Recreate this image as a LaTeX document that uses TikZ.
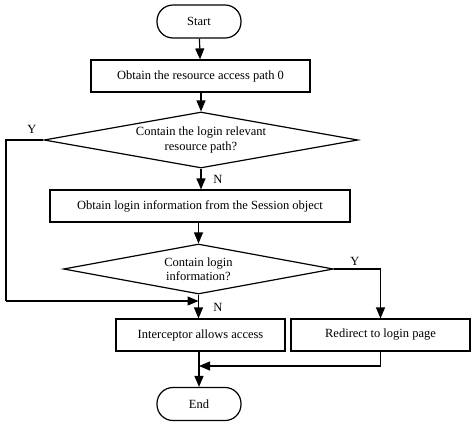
\documentclass[tikz,border=0pt]{standalone}
\usepackage{fontspec}
\setmainfont{Liberation Serif}
\usetikzlibrary{shapes.geometric,arrows.meta}
\begin{document}
\begin{tikzpicture}[x=1pt,y=-1pt,
  every node/.style={font=\fontsize{12.5}{14}\selectfont},
  line/.style={line width=1.2pt},
  arr/.style={line, -{Triangle[length=11pt,width=9pt]}},
  term/.style={draw, line width=1.2pt, rounded corners=16pt, minimum width=84pt, minimum height=33pt, inner sep=0pt},
  proc/.style={draw, line width=1.2pt, minimum height=32pt, inner sep=0pt},
  dec/.style={draw, line width=1.2pt, diamond, inner sep=0pt, align=center, font=\fontsize{12.5}{14.5}\selectfont},
  lab/.style={inner sep=0pt}]
\useasboundingbox (0,0) rectangle (474,424);
\node[term] (start) at (199,21.5) {Start};
\node[proc, minimum width=219pt] (b1) at (200.5,76) {Obtain the resource access path 0};
\node[dec, aspect=5.607, minimum width=314pt, minimum height=56pt] (d1) at (201,140) {Contain the login relevant\\resource path?};
\node[proc, minimum width=300pt] (b2) at (200,206) {Obtain login information from the Session object};
\node[dec, aspect=5.4, minimum width=270pt, minimum height=50pt] (d2) at (198.5,269) {Contain login\\information?};
\node[proc, minimum width=169pt] (b3) at (200.5,335) {Interceptor allows access};
\node[proc, minimum width=179pt] (b4) at (380.5,335) {Redirect to login page};
\node[term] (end) at (199,404) {End};
\coordinate (loopL) at (6,140);
\coordinate (loopB) at (6,301);
\coordinate (loopE) at (198.5,301);
\coordinate (rT) at (380.5,269);
\coordinate (rB) at (380.5,366);
\coordinate (mJ) at (199,366);
\draw[arr] (start) -- (b1);
\draw[arr] (b1.south -| d1.north) -- (d1.north);
\draw[arr] (d1.south) -- (b2.north -| d1.south);
\draw[arr] (b2.south -| d2.north) -- (d2.north);
\draw[arr] (d2.south) -- (b3.north -| d2.south);
\draw[line] (d1.west) -- (loopL) -- (loopB);
\draw[arr] (loopB) -- (loopE);
\draw[line] (d2.east) -- (rT);
\draw[arr] (rT) -- (b4.north);
\draw[line] (b4.south) -- (rB);
\draw[arr] (rB) -- (mJ);
\draw[arr] (b3.south -| end.north) -- (end.north);
\node[lab] (y1) at (32,129) {Y};
\node[lab] (n1) at (218,179) {N};
\node[lab] (y2) at (355,261) {Y};
\node[lab] (n2) at (218,307) {N};
\end{tikzpicture}
\end{document}
